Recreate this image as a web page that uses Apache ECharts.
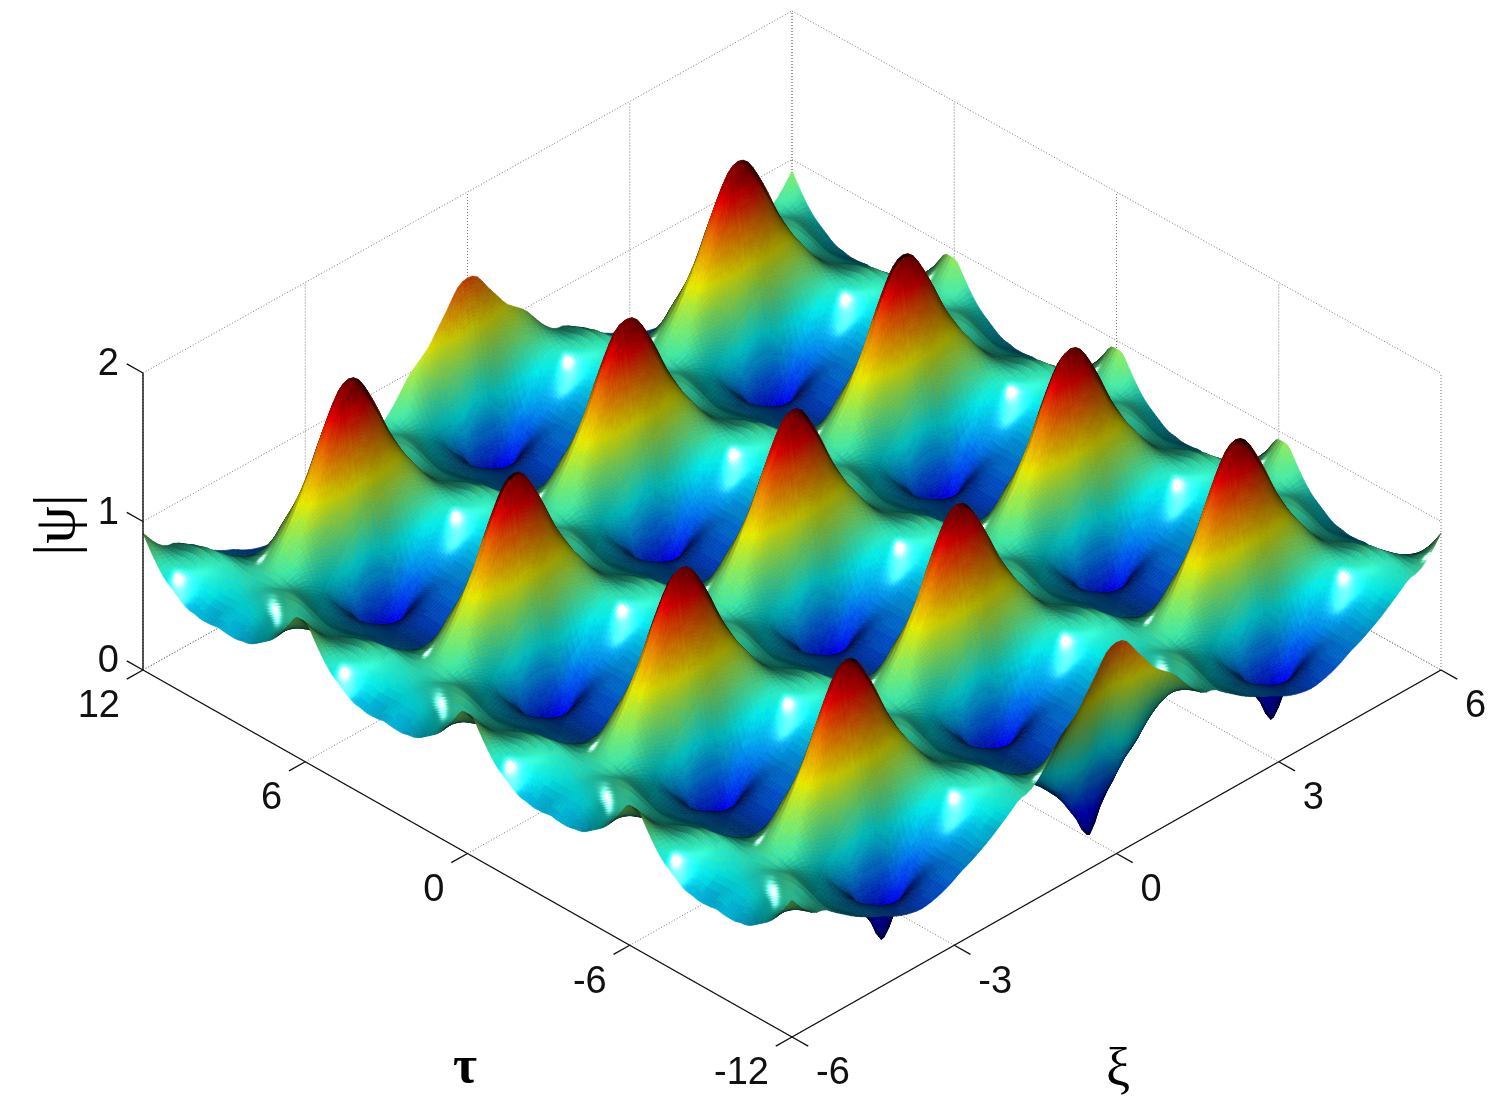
<!DOCTYPE html>
<html><head><meta charset="utf-8">
<style>html,body{margin:0;padding:0;background:#fff}#c{width:1500px;height:1111px}</style>
<script src="https://cdn.jsdelivr.net/npm/echarts@6/dist/echarts.min.js"></script>
</head><body><div id="c"></div>
<script>
// Tick labels of the three axes
const tauTicks = [12, 6, 0, -6, -12];
const xiTicks = [-6, -3, 0, 3, 6];
const psiTicks = [0, 1, 2];

// Heights |psi|, for one repeat of the lattice.
// Each row: a distance from a peak along xi (0 .. 1.8, step 0.18);
// each column: a distance along tau (0 .. half a period, 15 samples).
// The surface repeats these by the lattice seen in the picture; the fine mesh below only smooths shading between them.
const psiRow0  = [1.76,1.50,1.17,.87,.58,.29,.00,.18,.29,.34,.36,.37,.37,.37,.37];
const psiRow1  = [1.72,1.47,1.14,.84,.56,.32,.15,.22,.31,.35,.37,.38,.38,.38,.38];
const psiRow2  = [1.60,1.36,1.07,.78,.52,.35,.27,.30,.35,.38,.39,.40,.40,.40,.40];
const psiRow3  = [1.45,1.25,1.02,.76,.55,.44,.40,.38,.40,.42,.43,.43,.43,.43,.43];
const psiRow4  = [1.28,1.14,.97,.78,.60,.50,.48,.46,.46,.46,.47,.47,.47,.47,.47];
const psiRow5  = [1.14,1.07,.94,.80,.67,.59,.56,.53,.51,.50,.50,.50,.50,.50,.50];
const psiRow6  = [1.01,1.00,.90,.80,.72,.66,.62,.59,.56,.54,.54,.53,.53,.54,.54];
const psiRow7  = [.91,.90,.85,.80,.75,.71,.68,.65,.62,.60,.59,.58,.58,.58,.59];
const psiRow8  = [.82,.81,.79,.77,.75,.74,.72,.70,.675,.65,.635,.63,.63,.63,.64];
const psiRow9  = [.75,.75,.75,.75,.76,.77,.77,.76,.74,.71,.69,.68,.68,.68,.68];
const psiRow10 = [.72,.73,.75,.77,.79,.80,.81,.81,.81,.80,.79,.77,.75,.73,.72];
const psiRows = [psiRow0,psiRow1,psiRow2,psiRow3,psiRow4,psiRow5,psiRow6,psiRow7,psiRow8,psiRow9,psiRow10];

const tauPeriod = 6.137, xiRowStep = 3.6, psiMax = 1.76;

// Oblique view of the box (pixel-valued hidden axes)
const O = [143, 670], EU = [649, 367], EV = [649, -367], EZ = 148.5, backSag = 5;
function project(tau, xi, psi) {
  const u = (12 - tau) / 24, v = (xi + 6) / 12;
  return [O[0] + u * EU[0] + v * EV[0], O[1] + u * EU[1] + v * EV[1] - psi * EZ + backSag * (1 - u) * v];
}
function lattice(I, J) {
  const m = Math.floor((J + 10) / 20);
  let j = Math.abs(J - 20 * m), i = I - 14 * m;
  i = ((i % 28) + 28) % 28; if (i > 14) i = 28 - i;
  return psiRows[j][i];
}
function cr(p0, p1, p2, p3, s) {
  return p1 + .5 * s * (p2 - p0 + s * (2 * p0 - 5 * p1 + 4 * p2 - p3 + s * (3 * (p1 - p2) + p3 - p0)));
}
function height(tau, xi) {
  const I = tau / tauPeriod * 28, J = xi / xiRowStep * 20;
  const i0 = Math.floor(I), j0 = Math.floor(J), a = I - i0, b = J - j0, r = [];
  for (let n = -1; n < 3; n++) {
    r.push(cr(lattice(i0 - 1, j0 + n), lattice(i0, j0 + n), lattice(i0 + 1, j0 + n), lattice(i0 + 2, j0 + n), a));
  }
  return Math.max(0, cr(r[0], r[1], r[2], r[3], b));
}
function jet(c) {
  const f = x => Math.max(0, Math.min(1, x));
  return [f(1.5 - Math.abs(4 * c - 3)), f(1.5 - Math.abs(4 * c - 2)), f(1.5 - Math.abs(4 * c - 1))];
}
function norm(a) { const l = Math.hypot(a[0], a[1], a[2]); return [a[0] / l, a[1] / l, a[2] / l]; }
function dot(a, b) { return a[0] * b[0] + a[1] * b[1] + a[2] * b[2]; }
const viewDir = [.583, -.583, .5655];
const specDir = norm([.42, -.48, .77]);
const specDir2 = norm([-.31, -.53, .75]);
const SU = 918, SZ = 180;

const Nu = 240, Nv = 130, M = 4, mesh = [];
for (let i = -M; i <= Nu + M; i++) {
  const row = [];
  for (let j = -M; j <= Nv + M; j++) row.push(height(12 - 24 * i / Nu, -6 + 12 * j / Nv));
  mesh.push(row);
}
// soft copy of the mesh used for shading only, so the coarse table does not show as facets
const kernel = [1, 2, 3, 4, 3, 2, 1].map(k => k / 16);
const W = mesh.length, H = mesh[0].length;
const soft = mesh.map(r => r.slice());
{
  const tmp = mesh.map(r => r.slice());
  for (let i = 0; i < W; i++) for (let j = 0; j < H; j++) {
    let s = 0; for (let k = -3; k <= 3; k++) s += kernel[k + 3] * mesh[Math.min(W - 1, Math.max(0, i + k))][j]; tmp[i][j] = s;
  }
  for (let i = 0; i < W; i++) for (let j = 0; j < H; j++) {
    let s = 0; for (let k = -3; k <= 3; k++) s += kernel[k + 3] * tmp[i][Math.min(H - 1, Math.max(0, j + k))]; soft[i][j] = s;
  }
  for (let i = 0; i < W; i++) for (let j = 0; j < H; j++) {
    const keep = Math.max(0, Math.min(1, (Math.abs(mesh[i][j] - .85) - .5) / .3));
    soft[i][j] += (mesh[i][j] - soft[i][j]) * keep;
  }
}
const normals = [];
for (let i = 0; i < W; i++) {
  const row = [];
  for (let j = 0; j < H; j++) {
    const a = Math.max(0, i - 1), b = Math.min(W - 1, i + 1), c = Math.max(0, j - 1), d = Math.min(H - 1, j + 1);
    const dzu = (soft[b][j] - soft[a][j]) / (b - a) * SZ / (SU / Nu), dzv = (soft[i][d] - soft[i][c]) / (d - c) * SZ / (SU / Nv);
    row.push(norm([-dzu, -dzv, 1]));
  }
  normals.push(row);
}
const band = (z, a, b, f) => Math.max(0, Math.min(1, (z - a) / f, (b - z) / f));
function shade(n0, z) {
  let n = norm(n0);
  if (dot(n, viewDir) < 0) n = n.map(v => -v);
  const base = jet(Math.min(63, Math.max(0, Math.floor(z / psiMax * 64))) / 63);
  const nv = Math.max(0, dot(n, viewDir)), nh = Math.max(0, dot(n, specDir)), nh2 = Math.max(0, dot(n, specDir2));
  const lit = Math.min(.92, .16 + .82 * nv);
  const s = (.95 * Math.pow(nh, 700) + .5 * Math.pow(nh, 260)) * band(z, .5, .78, .05)
          + (.95 * Math.pow(nh2, 500) + .5 * Math.pow(nh2, 170)) * band(z, .7, 1.0, .05);
  return 'rgb(' + base.map(v => Math.round(255 * Math.min(1, v * lit + s))).join(',') + ')';
}
const quads = [], quadColors = [];
const bil = (a, b, c, d, s, r) => (a * (1 - s) + b * s) * (1 - r) + (d * (1 - s) + c * s) * r;
for (let i = 0; i < Nu; i++) {
  for (let j = Nv - 1; j >= 0; j--) {
    const I0 = i + M, J0 = j + M;
    const a = mesh[I0][J0], b = mesh[I0 + 1][J0], c = mesh[I0 + 1][J0 + 1], d = mesh[I0][J0 + 1];
    const sa = soft[I0][J0], sb = soft[I0 + 1][J0], sc = soft[I0 + 1][J0 + 1], sd = soft[I0][J0 + 1];
    const na = normals[I0][J0], nb = normals[I0 + 1][J0], nc = normals[I0 + 1][J0 + 1], nd = normals[I0][J0 + 1];
    let ku = Math.min(8, Math.max(1, Math.ceil(Math.max(Math.abs(b - a), Math.abs(c - d)) * EZ / 4)));
    let kv = Math.min(4, Math.max(1, Math.ceil(Math.max(Math.abs(d - a), Math.abs(c - b)) * EZ / 5)));
    if (Math.max(dot(na, specDir), dot(nc, specDir), dot(na, specDir2), dot(nc, specDir2)) > .975) { ku = Math.max(ku, 3); kv = Math.max(kv, 3); }
    for (let p = 0; p < ku; p++) for (let q = kv - 1; q >= 0; q--) {
      const s0 = p / ku, s1 = (p + 1) / ku, r0 = q / kv, r1 = (q + 1) / kv, sm = (s0 + s1) / 2, rm = (r0 + r1) / 2;
      const tau = s => 12 - 24 * (i + s) / Nu, xi = r => -6 + 12 * (j + r) / Nv;
      const n = [0, 1, 2].map(k => bil(na[k], nb[k], nc[k], nd[k], sm, rm));
      quadColors.push(shade(n, bil(sa, sb, sc, sd, sm, rm)));
      quads.push([
        ...project(tau(s0), xi(r0), bil(a, b, c, d, s0, r0)), ...project(tau(s1), xi(r0), bil(a, b, c, d, s1, r0)),
        ...project(tau(s1), xi(r1), bil(a, b, c, d, s1, r1)), ...project(tau(s0), xi(r1), bil(a, b, c, d, s0, r1))]);
    }
  }
}

// Box lines
const dotted = [], solid = [];
function seg(list, p, q) { list.push([...project(...p), ...project(...q)]); }
tauTicks.forEach(t => { seg(dotted, [t, -6, 0], [t, 6, 0]); seg(dotted, [t, 6, 0], [t, 6, 2]); });
xiTicks.forEach(x => { seg(dotted, [12, x, 0], [-12, x, 0]); seg(dotted, [12, x, 0], [12, x, 2]); });
psiTicks.forEach(z => { seg(dotted, [12, -6, z], [12, 6, z]); seg(dotted, [12, 6, z], [-12, 6, z]); });
seg(solid, [12, -6, 0], [-12, -6, 0]);
seg(solid, [-12, -6, 0], [-12, 6, 0]);
seg(solid, [12, -6, 0], [12, -6, 2]);
tauTicks.forEach(t => seg(solid, [t, -6, 0], [t, -6 - 0.3, 0]));
xiTicks.forEach(x => seg(solid, [-12, x, 0], [-12 - 0.6, x, 0]));
psiTicks.forEach(z => seg(solid, [12, -6, z], [12 + 0.6, -6, z]));

const labels = [];
tauTicks.forEach(t => { const p = project(t, -6, 0); labels.push([p[0] - 23, p[1] + 37, String(t), 'right']); });
xiTicks.forEach(x => { const p = project(-12, x, 0); labels.push([p[0] + 24, p[1] + 37, String(x), 'left']); });
psiTicks.forEach(z => { const p = project(12, -6, z); labels.push([p[0] - 24, p[1] - 8, String(z), 'right']); });

function lineSeries(list, z, style) {
  return { type: 'custom', coordinateSystem: 'cartesian2d', z, silent: true, clip: false, animation: false,
    data: list, dimensions: ['a','b','c','d'], encode: { x: 0, y: 1 },
    renderItem(params, api) {
      const p = api.coord([api.value(0), api.value(1)]), q = api.coord([api.value(2), api.value(3)]);
      return { type: 'line', shape: { x1: p[0], y1: p[1], x2: q[0], y2: q[1] }, style };
    } };
}
const titles = [
  { pos: [58, 525], text: '|\u03c8|', font: '60px "Liberation Serif"', rot: Math.PI / 2 },
  { pos: [465, 1069], text: '\u03c4', font: 'bold 52px "Liberation Serif"', rot: 0 },
  { pos: [1118, 1072], text: '\u03be', font: '54px "Liberation Serif"', rot: 0 }
];

const chart = echarts.init(document.getElementById('c'), null, { renderer: 'canvas', width: 1500, height: 1111 });
chart.setOption({
  animation: false, backgroundColor: '#fff',
  grid: { left: 0, right: 0, top: 0, bottom: 0 },
  xAxis: { type: 'value', min: 0, max: 1500, show: false },
  yAxis: { type: 'value', min: 0, max: 1111, inverse: true, show: false },
  series: [
    lineSeries(dotted, 1, { stroke: '#777', lineWidth: 1, lineDash: [1, 2] }),
    { type: 'custom', coordinateSystem: 'cartesian2d', z: 2, silent: true, clip: false, animation: false,
      progressive: 0, data: quads, encode: { x: 0, y: 1 },
      renderItem(params, api) {
        const pts = [];
        for (let k = 0; k < 4; k++) pts.push(api.coord([api.value(2 * k), api.value(2 * k + 1)]));
        const c = quadColors[params.dataIndex];
        return { type: 'polygon', shape: { points: pts }, style: { fill: c, stroke: c, lineWidth: .7 } };
      } },
    lineSeries(solid, 3, { stroke: '#111', lineWidth: 1.4 }),
    { type: 'custom', coordinateSystem: 'cartesian2d', z: 4, silent: true, clip: false, animation: false,
      data: labels.map(l => [l[0], l[1]]), encode: { x: 0, y: 1 },
      renderItem(params, api) {
        const l = labels[params.dataIndex], p = api.coord([l[0], l[1]]);
        return { type: 'text', x: p[0], y: p[1], style: { text: l[2], align: l[3], verticalAlign: 'middle', font: '38px "Liberation Sans"', fill: '#111' } };
      } },
    { type: 'custom', coordinateSystem: 'cartesian2d', z: 4, silent: true, clip: false, animation: false,
      data: titles.map(t => t.pos), encode: { x: 0, y: 1 },
      renderItem(params, api) {
        const t = titles[params.dataIndex], p = api.coord(t.pos);
        return { type: 'text', x: p[0], y: p[1], rotation: t.rot, style: { text: t.text, align: 'center', verticalAlign: 'middle', font: t.font, fill: '#000' } };
      } }
  ]
});
</script></body></html>
